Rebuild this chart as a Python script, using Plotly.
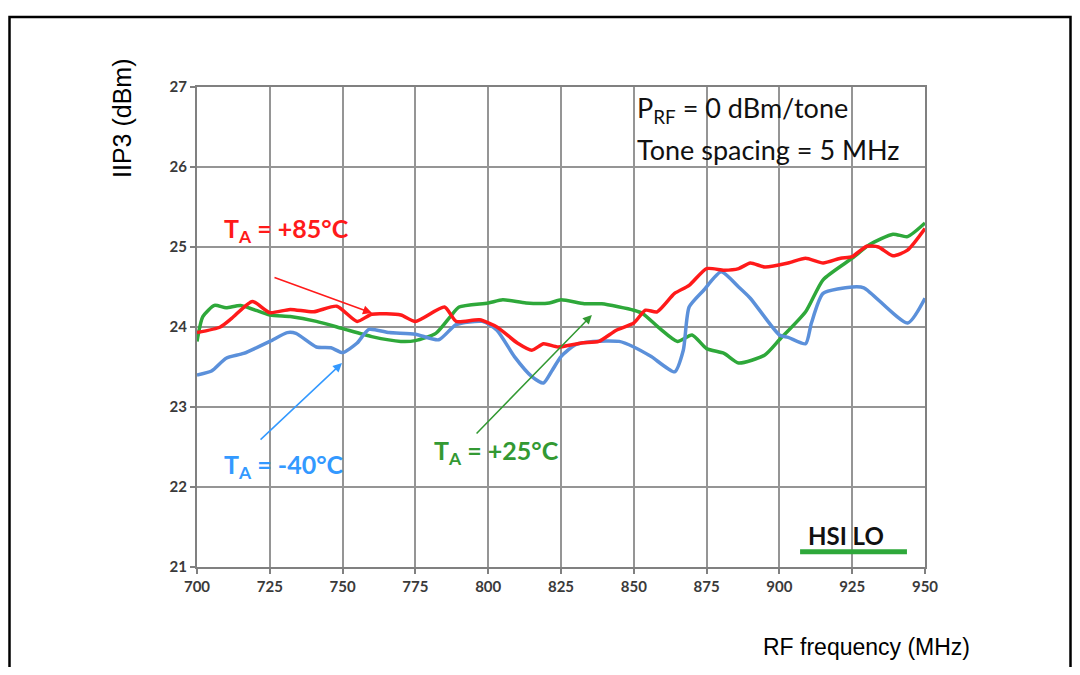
import plotly.graph_objects as go

# ---- data ----
freq_m40 = [700, 705, 710, 716, 725, 731, 734, 741, 746, 750, 755, 759, 766, 775, 783, 789, 798, 803,
            809, 815, 819, 822, 825, 830, 836, 845, 850, 856, 864, 867, 869, 874, 880, 886, 890, 900,
            903, 909, 911, 915, 925, 929, 944, 950]
iip3_m40 = [23.40, 23.45, 23.61, 23.67, 23.82, 23.93, 23.92, 23.75, 23.74, 23.68, 23.80, 23.97, 23.93,
            23.91, 23.84, 24.03, 24.07, 23.96, 23.63, 23.38, 23.30, 23.46, 23.63, 23.78, 23.82, 23.82,
            23.75, 23.63, 23.44, 23.71, 24.25, 24.46, 24.69, 24.50, 24.36, 23.90, 23.87, 23.79, 24.05,
            24.42, 24.50, 24.49, 24.05, 24.36]

freq_p85 = [700, 708, 712, 719, 725, 732, 740, 748, 755, 760, 770, 775, 785, 789, 797, 803, 810, 815,
            819, 824, 832, 838, 844, 850, 854, 858, 864, 869, 875, 881, 886, 890, 895, 903, 909, 915,
            921, 925, 930, 934, 939, 944, 950]
iip3_p85 = [23.93, 24.00, 24.11, 24.32, 24.18, 24.22, 24.19, 24.26, 24.07, 24.16, 24.15, 24.07, 24.25,
            24.07, 24.09, 24.00, 23.80, 23.71, 23.79, 23.75, 23.80, 23.82, 23.96, 24.05, 24.21, 24.19,
            24.42, 24.52, 24.73, 24.71, 24.73, 24.80, 24.75, 24.80, 24.86, 24.80, 24.86, 24.88, 25.01,
            25.00, 24.89, 24.96, 25.23]

freq_p25 = [700, 702, 706, 710, 715, 725, 732, 741, 750, 760, 770, 775, 782, 787, 790, 800, 805, 813,
            821, 825, 833, 839, 850, 853, 859, 865, 870, 875, 881, 886, 895, 900, 909, 915, 925, 931,
            939, 944, 950]
iip3_p25 = [23.82, 24.13, 24.27, 24.24, 24.27, 24.15, 24.13, 24.07, 23.98, 23.88, 23.82, 23.83, 23.92,
            24.13, 24.25, 24.30, 24.34, 24.30, 24.30, 24.34, 24.29, 24.29, 24.21, 24.17, 23.98, 23.82,
            23.90, 23.73, 23.67, 23.55, 23.65, 23.84, 24.19, 24.59, 24.86, 25.03, 25.16, 25.13, 25.30]

x_ticks = [700, 725, 750, 775, 800, 825, 850, 875, 900, 925, 950]
y_ticks = [21, 22, 23, 24, 25, 26, 27]

RED = "#FF1A1A"
GREEN = "#2EA83A"
BLUE = "#5B90DA"

# page body has an 8px margin on every side -> size the figure so nothing overflows
OFF = 8
W, H = 1080 - 2 * OFF, 675 - 2 * OFF
L, R, T, B = 197, 925, 87, 567  # plot area in screen pixels

fig = go.Figure()
fig.add_trace(go.Scatter(x=freq_p25, y=iip3_p25, mode="lines", line=dict(color=GREEN, width=3.5, shape="spline", smoothing=0.6)))
fig.add_trace(go.Scatter(x=freq_m40, y=iip3_m40, mode="lines", line=dict(color=BLUE, width=3.5, shape="spline", smoothing=0.6)))
fig.add_trace(go.Scatter(x=freq_p85, y=iip3_p85, mode="lines", line=dict(color=RED, width=3.5, shape="spline", smoothing=0.6)))

tickfont = dict(family="Lato", size=15, color="#3a3a3a")
axis_common = dict(showgrid=True, gridcolor="#959595", gridwidth=2, zeroline=False,
                   showline=True, linecolor="#808080", linewidth=2, mirror=True,
                   ticks="outside", ticklen=5, tickcolor="#808080", tickwidth=1.5,
                   tickfont=tickfont)
fig.update_xaxes(range=[700, 950], tickvals=x_ticks, ticktext=["<b>%d</b>" % v for v in x_ticks], **axis_common)
fig.update_yaxes(range=[21, 27], tickvals=y_ticks, ticktext=["<b>%d</b>" % v for v in y_ticks], **axis_common)


def px2paper(px, py):
    return (px - L) / (R - L), (B - py) / (B - T)


ann = []
lab_font = dict(family="Lato", size=25)
ann.append(dict(x=730.6, y=25.21, text="<b>T<sub>A</sub> = +85°C</b>", showarrow=False,
                font=dict(lab_font, color=RED), xref="x", yref="y"))
ann.append(dict(x=729.9, y=22.26, text="<b>T<sub>A</sub> = -40°C</b>", showarrow=False,
                font=dict(lab_font, color="#3399FF"), xref="x", yref="y"))
ann.append(dict(x=803.0, y=22.44, text="<b>T<sub>A</sub> = +25°C</b>", showarrow=False,
                font=dict(lab_font, color="#339933"), xref="x", yref="y"))
# arrows
ann.append(dict(x=760.1, y=24.175, ax=726.1, ay=24.625, axref="x", ayref="y", xref="x", yref="y",
                text="", showarrow=True, arrowhead=2, arrowsize=1.2, arrowwidth=1.5, arrowcolor=RED))
ann.append(dict(x=749.8, y=23.55, ax=721.3, ay=22.575, axref="x", ayref="y", xref="x", yref="y",
                text="", showarrow=True, arrowhead=2, arrowsize=1.2, arrowwidth=1.5, arrowcolor="#3399FF"))
ann.append(dict(x=835.6, y=24.15, ax=795.5, ay=22.65, axref="x", ayref="y", xref="x", yref="y",
                text="", showarrow=True, arrowhead=2, arrowsize=1.2, arrowwidth=1.5, arrowcolor="#339933"))
# conditions
cond_font = dict(family="Lato", size=27, color="#111111")
ann.append(dict(x=850.5, y=26.72, xanchor="left", text="P<sub>RF</sub> = 0 dBm/tone", showarrow=False,
                font=cond_font, xref="x", yref="y"))
ann.append(dict(x=850.5, y=26.22, xanchor="left", text="Tone spacing = 5 MHz", showarrow=False,
                font=cond_font, xref="x", yref="y"))
ann.append(dict(x=922.9, y=21.39, text="<b>HSI LO</b>", showarrow=False,
                font=dict(family="Lato", size=24, color="#111111"), xref="x", yref="y"))
# axis titles
yx, yy = px2paper(122, 119)
ann.append(dict(x=yx, y=yy, xref="paper", yref="paper", xanchor="center", yanchor="middle",
                text="IIP3 (dBm)", textangle=-90, showarrow=False,
                font=dict(family="Liberation Sans, Arial", size=25, color="#000000")))
tx, ty = px2paper(866, 647)
ann.append(dict(x=tx, y=ty, xref="paper", yref="paper", xanchor="center", yanchor="middle",
                text="RF frequency (MHz)", showarrow=False,
                font=dict(family="Liberation Sans, Arial", size=23, color="#000000")))

shapes = []
# HSI LO legend line
shapes.append(dict(type="line", xref="x", yref="y", x0=907.1, x1=943.8, y0=21.19, y1=21.19,
                   line=dict(color=GREEN, width=5)))
# outer frame (bottom edge falls below the page, as in the reference)
fx0, fy0 = px2paper(9.5, 17)
fx1, fy1 = px2paper(1070.5, 700)
shapes.append(dict(type="rect", xref="paper", yref="paper", x0=fx0, x1=fx1, y0=fy1, y1=fy0,
                   line=dict(color="#000000", width=2.5), layer="above"))

fig.update_layout(width=W, height=H,
                  margin=dict(l=L - OFF, r=(W + OFF) - R, t=T - OFF, b=(H + OFF) - B),
                  paper_bgcolor="white", plot_bgcolor="white", showlegend=False,
                  annotations=ann, shapes=shapes)

fig.write_html("out.html")
